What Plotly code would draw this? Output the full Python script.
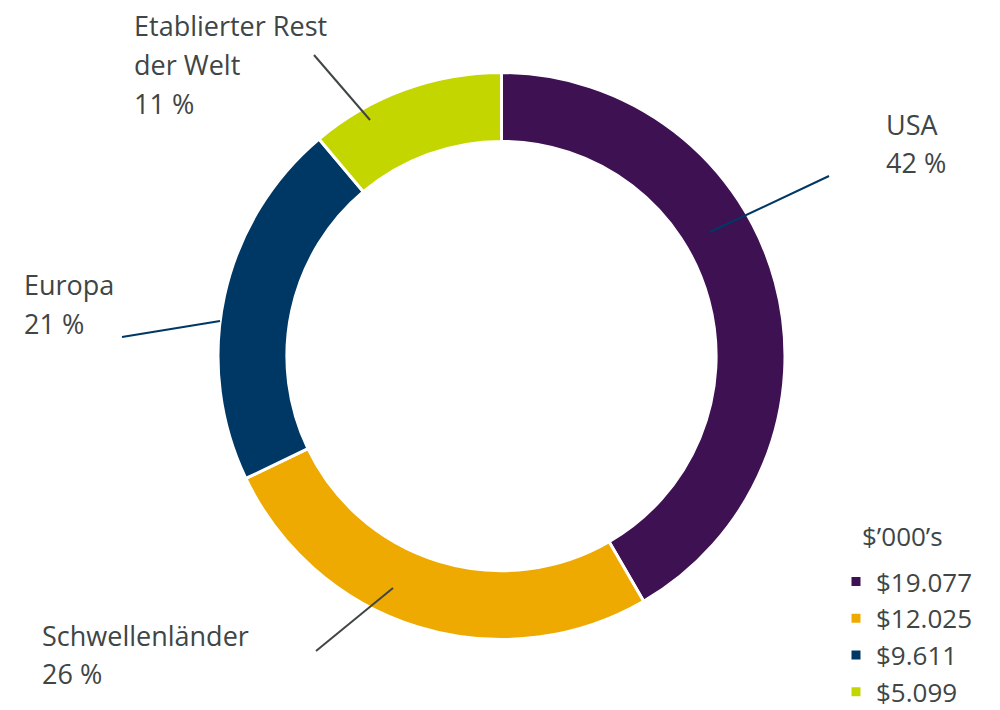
import plotly.graph_objects as go

# Daten
regionen = ["USA", "Schwellenländer", "Europa", "Etablierter Rest<br>der Welt"]
werte = [19077, 12025, 9611, 5099]
legenden_labels = ["$19.077", "$12.025", "$9.611", "$5.099"]
farben = ["#3D1152", "#EEAA00", "#003865", "#C4D600"]

W, H = 1000, 710
RAND = 8  # Standardrand des <body> im Browser
textfarbe = "#404545"
schrift = "Open Sans"

gesamt = sum(werte)
prozente = [round(v / gesamt * 100) for v in werte]


def px_x(x):
    return (x - RAND) / W


def px_y(y):
    return 1 - (y - RAND) / H


fig = go.Figure()
fig.add_trace(go.Pie(
    labels=legenden_labels,
    values=werte,
    hole=0.757,
    sort=False,
    direction="clockwise",
    marker=dict(colors=farben, line=dict(color="white", width=3)),
    textinfo="none",
    domain=dict(x=[px_x(218), px_x(785)], y=[px_y(640), px_y(72)]),
    customdata=regionen,
    hovertemplate="%{customdata}<br>%{label}<extra></extra>",
))

# Beschriftungen (Textposition links, Zeilenabstand ca. 38 px)
beschriftung_pos = [(885, 124), (41, 635), (23, 285), (133, 26)]
for name, p, (x0, y0) in zip(regionen, prozente, beschriftung_pos):
    zeilen = name.split("<br>") + [f"{p} %"]
    for i, z in enumerate(zeilen):
        fig.add_annotation(
            x=px_x(x0), y=px_y(y0 + i * 38.5), xref="paper", yref="paper",
            text=z, showarrow=False, xanchor="left", yanchor="middle",
            borderpad=0,
            font=dict(family=schrift, size=27, color=textfarbe),
        )

# Legendentitel
fig.add_annotation(
    x=px_x(860), y=px_y(536), xref="paper", yref="paper",
    text="$’000’s", showarrow=False, xanchor="left", yanchor="middle",
    font=dict(family=schrift, size=26, color=textfarbe),
)

# Führungslinien
linien = [
    ((710, 232), (829, 176), "#003865"),
    ((393, 588), (316, 651), "#404545"),
    ((220, 321), (122, 337), "#003865"),
    ((370, 120), (314, 55), "#404545"),
]
for (xa, ya), (xb, yb), c in linien:
    fig.add_shape(type="line", xref="paper", yref="paper",
                  x0=px_x(xa), y0=px_y(ya), x1=px_x(xb), y1=px_y(yb),
                  line=dict(color=c, width=2))

fig.update_layout(
    width=W, height=H,
    margin=dict(l=0, r=0, t=0, b=0),
    paper_bgcolor="white",
    plot_bgcolor="white",
    font=dict(family=schrift, color=textfarbe),
    showlegend=True,
    legend=dict(
        font=dict(family=schrift, size=26, color=textfarbe),
        x=px_x(836), y=px_y(558), xanchor="left", yanchor="top",
        bgcolor="rgba(0,0,0,0)",
        tracegroupgap=0,
    ),
)

fig.write_html("out.html")
